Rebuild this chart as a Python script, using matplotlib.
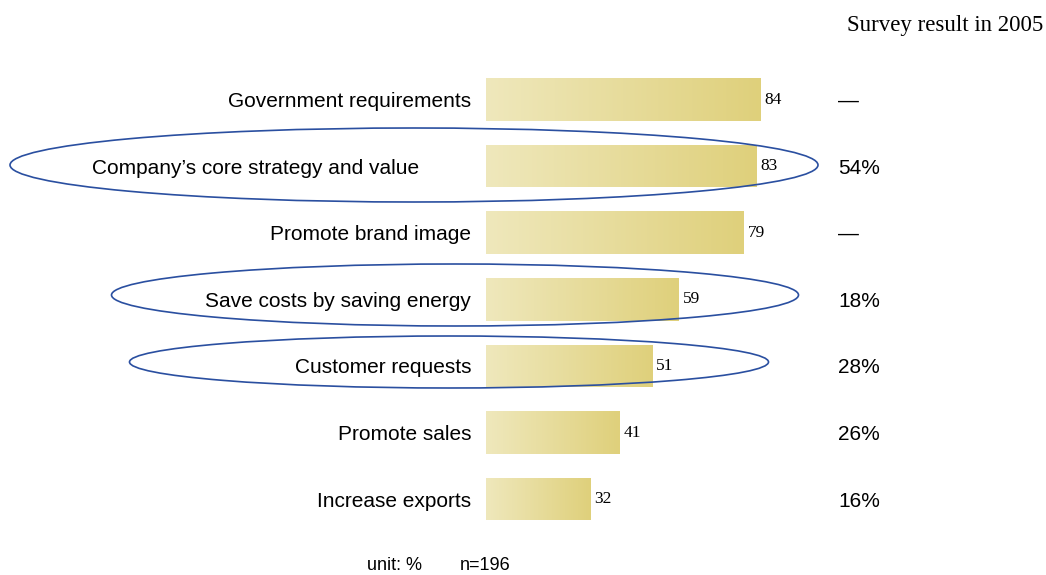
import matplotlib
matplotlib.use("Agg")
import matplotlib.pyplot as plt
import numpy as np
from matplotlib.colors import LinearSegmentedColormap
from matplotlib.patches import Ellipse

# Survey data
categories = [
    "Government requirements",
    "Company\u2019s core strategy and value",
    "Promote brand image",
    "Save costs by saving energy",
    "Customer requests",
    "Promote sales",
    "Increase exports",
]
values = [84, 83, 79, 59, 51, 41, 32]
results_2005 = ["\u2014", "54%", "\u2014", "18%", "28%", "26%", "16%"]
highlighted = [1, 3, 4]

W, H, DPI = 1046, 575, 100
fig = plt.figure(figsize=(W / DPI, H / DPI), dpi=DPI)
ax = fig.add_axes([0, 0, 1, 1])
ax.set_axis_off()

# value axis: bars start at x=486 px, 3.262 px per unit; rows 66.6 px apart
px_per_unit = 3.262
x0_px = 486
row_px = 66.6
row0_px = 99.5
ax.set_xlim(-x0_px / px_per_unit, (W - x0_px) / px_per_unit)
ax.set_ylim((H - row0_px) / row_px, -row0_px / row_px)


def px(dx):
    return dx / px_per_unit


def row(ypx):
    return (ypx - row0_px) / row_px


cmap = LinearSegmentedColormap.from_list("sand", ["#efe8bc", "#dfd07b"])
grad = np.linspace(0, 1, 256).reshape(1, -1)
bar_h = 42.5 / row_px

y = np.arange(len(categories))
bars = ax.barh(y, values, height=bar_h, color="none", edgecolor="none")
for bar in bars:
    x, yb = bar.get_x(), bar.get_y()
    w, h = bar.get_width(), bar.get_height()
    im = ax.imshow(grad, cmap=cmap, aspect="auto",
                   extent=(x, x + w, yb + h, yb), interpolation="bicubic", zorder=2)
    im.set_clip_path(bar)

for i, (cat, v, r) in enumerate(zip(categories, values, results_2005)):
    if i == 1:
        # this label sits centred inside its highlight ellipse
        ax.text(px(256 - x0_px), i, cat, ha="center", va="center_baseline",
                fontsize=15, family="Liberation Sans", color="#000000")
    else:
        ax.text(px(-15), i, cat, ha="right", va="center_baseline", fontsize=15,
                family="Liberation Sans", color="#000000")
    ax.text(v + px(4), i - 0.03, str(v), ha="left", va="center_baseline",
            fontsize=12.5, family="Liberation Serif", color="#000000")
    ax.text(px(838 - x0_px), i, r, ha="left", va="center_baseline", fontsize=15,
            family="Liberation Sans", color="#000000")

# highlight ellipses (center x px, width px, center y px, height px)
ellipse_px = {
    1: (414, 808, 165, 74),
    3: (455, 687, 295, 62),
    4: (449, 639, 362, 52),
}
for idx in highlighted:
    cx, ew, cy, eh = ellipse_px[idx]
    e = Ellipse((px(cx - x0_px), row(cy)), px(ew), eh / row_px,
                fill=False, edgecolor="#2a4fa0", linewidth=1.2, zorder=3)
    ax.add_patch(e)

fig.text(1043 / W, 1 - 26 / H, "Survey result in 2005", ha="right", va="center",
         fontsize=16.5, family="Liberation Serif", color="#000000")
fig.text(367 / W, 1 - 566 / H, "unit: %", ha="left", va="center",
         fontsize=13, family="Liberation Sans", color="#000000")
fig.text(460 / W, 1 - 566 / H, "n=196", ha="left", va="center",
         fontsize=13, family="Liberation Sans", color="#000000")

fig.savefig("out.png", dpi=DPI)
